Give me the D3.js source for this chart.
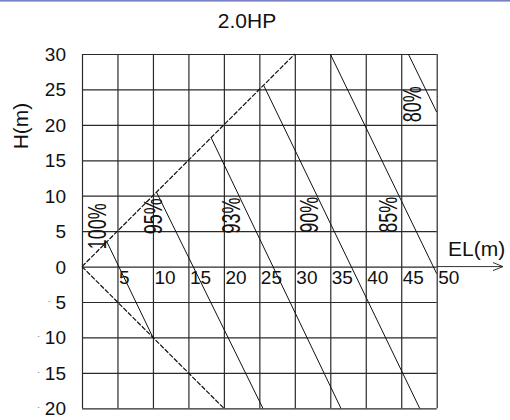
<!doctype html>
<html>
<head>
<script src="https://d3js.org/d3.v7.min.js"></script>
<style>
  body { margin: 0; background: #fff; }
  svg text { font-family: "Liberation Sans", Arial, sans-serif; fill: #111; }
</style>
</head>
<body>
<svg id="chart" width="510" height="420"></svg>
<script>
  // tick values
  var xTicks = [0, 5, 10, 15, 20, 25, 30, 35, 40, 45, 50];
  var yTicks = [-20, -15, -10, -5, 0, 5, 10, 15, 20, 25, 30];
  var xLabels = [5, 10, 15, 20, 25, 30, 35, 40, 45, 50];

  // envelope lines (EL, H)
  var upperEnv = [[0, 0], [30, 30]];
  var lowerEnv = [[0, 0], [20, -20]];

  // efficiency lines
  var effNames = ["100%", "95%", "93%", "90%", "85%", "80%"];
  var effStart = [[3.5, 3.5], [10.5, 10.5], [18.2, 18.2], [25.6, 25.6], [35, 30], [46, 30]];
  var effEnd = [[10, -10], [25.5, -20], [36.5, -20], [47.6, -20], [50, -1], [50, 21.8]];
  var effLabelAt = [[3.45, 5.7], [11.3, 7.1], [22.3, 7.2], [33.3, 7.3], [44.4, 7.3], [47.8, 22.9]];

  var svg = d3.select("#chart");

  svg.append("rect")
    .attr("x", 0).attr("y", 0)
    .attr("width", 510).attr("height", 1.6)
    .style("fill", "#7682c2");

  var xScale = d3.scaleLinear().domain([0, 50]).range([82, 436.7]);
  var yScale = d3.scaleLinear().domain([-20, 30]).range([408.3, 54]);

  // grid via axes
  var yGrid = d3.axisLeft(yScale)
    .tickValues(yTicks)
    .tickSize(-(xScale(50) - xScale(0)))
    .tickFormat("");
  svg.append("g")
    .attr("transform", "translate(" + xScale(0) + ",0)")
    .call(yGrid)
    .call(g => g.select(".domain").remove())
    .selectAll("line")
    .style("stroke", "#2a2a2a")
    .style("stroke-width", "1.2px");

  var xGrid = d3.axisBottom(xScale)
    .tickValues(xTicks)
    .tickSize(-(yScale(-20) - yScale(30)))
    .tickFormat("");
  svg.append("g")
    .attr("transform", "translate(0," + yScale(-20) + ")")
    .call(xGrid)
    .call(g => g.select(".domain").remove())
    .selectAll("line")
    .style("stroke", "#2a2a2a")
    .style("stroke-width", "1.2px");

  // EL axis arrow extension
  svg.append("line")
    .attr("x1", xScale(50)).attr("x2", 503)
    .attr("y1", yScale(0)).attr("y2", yScale(0))
    .style("stroke", "#333").style("stroke-width", "1px");
  svg.append("path")
    .attr("d", "M493," + (yScale(0) - 4) + "L503," + yScale(0) + "L493," + (yScale(0) + 4))
    .style("fill", "none").style("stroke", "#333").style("stroke-width", "1px");

  var line = d3.line().x(d => xScale(d[0])).y(d => yScale(d[1]));

  // envelopes
  [upperEnv, lowerEnv].forEach(function (env) {
    svg.append("path")
      .attr("d", line(env))
      .style("fill", "none")
      .style("stroke", "#111")
      .style("stroke-width", "1.2px")
      .style("stroke-dasharray", "5,1.5");
  });

  // efficiency lines
  svg.selectAll("path.eff")
    .data(effNames)
    .enter()
    .append("path")
    .attr("class", "eff")
    .attr("d", (d, i) => line([effStart[i], effEnd[i]]))
    .style("fill", "none")
    .style("stroke", "#111")
    .style("stroke-width", "1px");

  svg.selectAll("text.eff")
    .data(effNames)
    .enter()
    .append("text")
    .attr("class", "eff")
    .attr("transform", (d, i) => "translate(" + xScale(effLabelAt[i][0]) + "," + yScale(effLabelAt[i][1]) + ") rotate(-90) scale(1,1.4)")
    .attr("text-anchor", "middle")
    .style("font-size", "18px")
    .text(d => d);

  // y tick labels
  var yl = svg.selectAll("text.ytick")
    .data(yTicks)
    .enter()
    .append("text")
    .attr("class", "ytick")
    .attr("x", 66)
    .attr("y", d => yScale(d) + 7)
    .attr("text-anchor", "end")
    .style("font-size", "19px");
  yl.each(function (d) {
    var t = d3.select(this);
    if (d < 0) {
      t.append("tspan").attr("dy", -6).style("font-size", "6px").text("-");
      t.append("tspan").attr("dy", 6).text(" " + Math.abs(d));
    } else {
      t.text(d);
    }
  });

  // x tick labels
  svg.selectAll("text.xtick")
    .data(xLabels)
    .enter()
    .append("text")
    .attr("class", "xtick")
    .attr("x", d => xScale(d) + 1.5)
    .attr("y", yScale(0) + 17.5)
    .style("font-size", "19px")
    .text(d => d);

  // titles
  svg.append("text")
    .attr("x", 247).attr("y", 28)
    .attr("text-anchor", "middle")
    .style("font-size", "21px")
    .text("2.0HP");

  svg.append("text")
    .attr("transform", "translate(28,126) rotate(-90)")
    .attr("text-anchor", "middle")
    .style("font-size", "21px")
    .text("H(m)");

  svg.append("text")
    .attr("x", 448).attr("y", 256)
    .style("font-size", "21px")
    .text("EL(m)");
</script>
</body>
</html>
